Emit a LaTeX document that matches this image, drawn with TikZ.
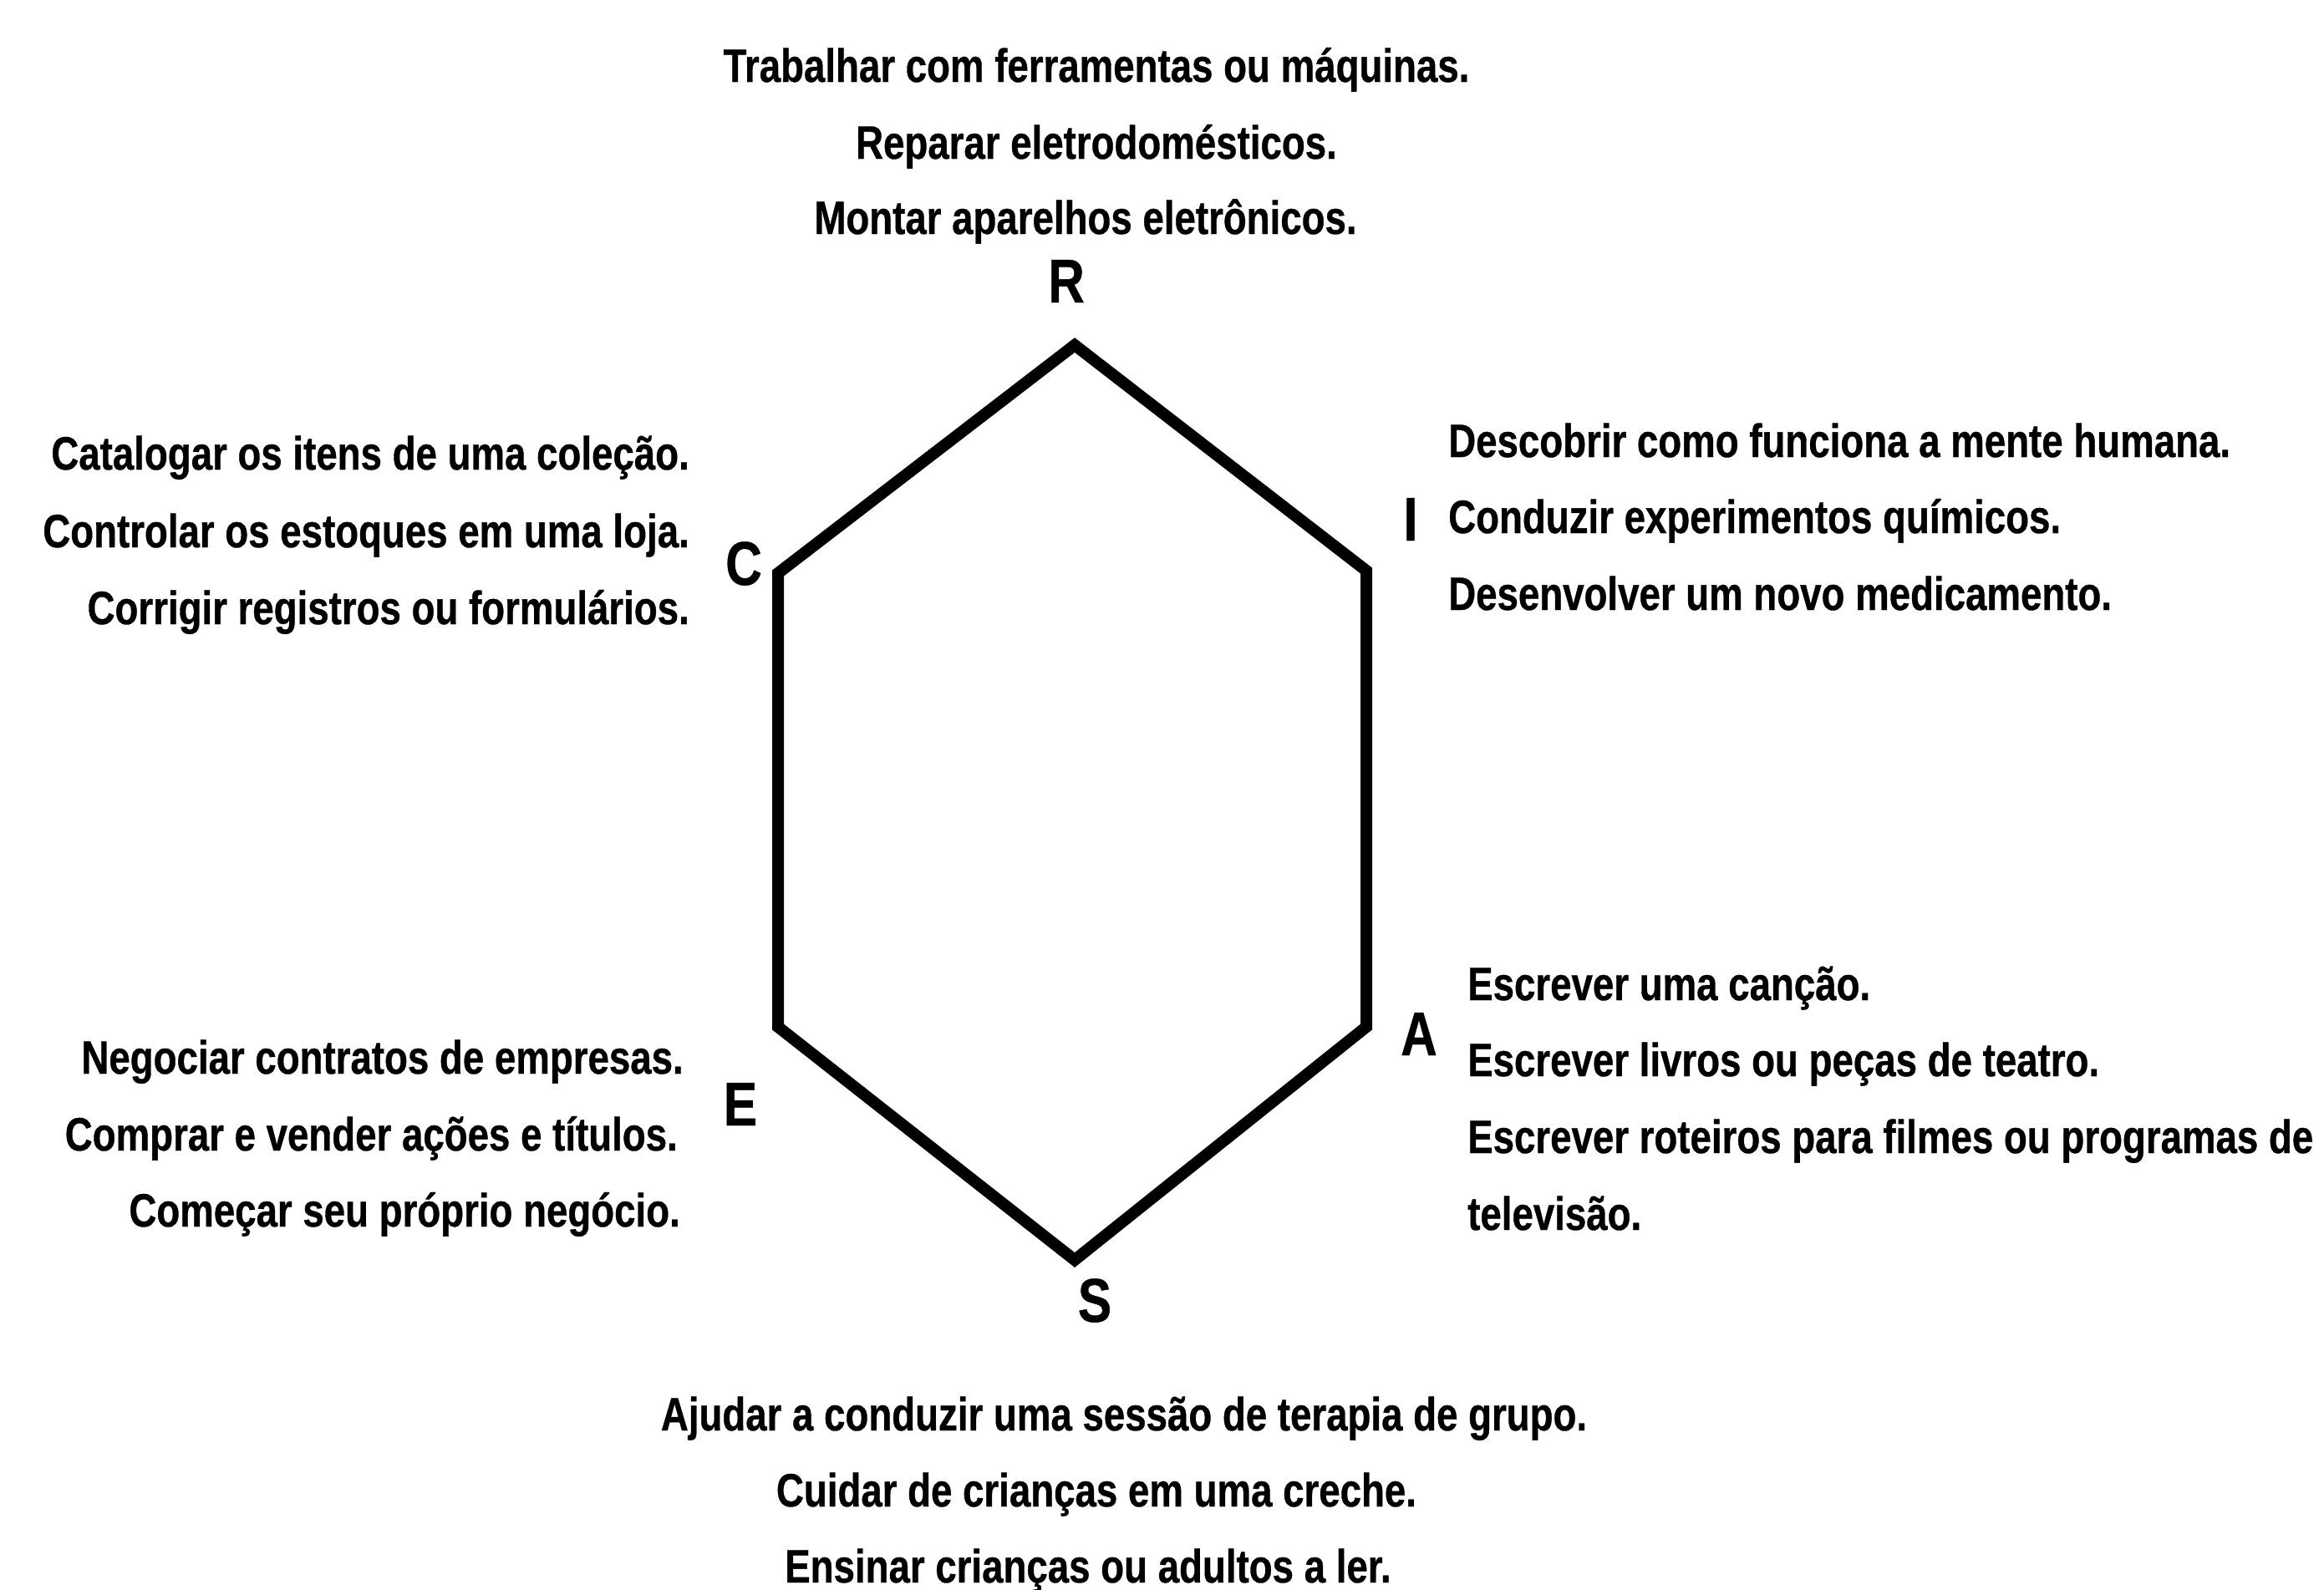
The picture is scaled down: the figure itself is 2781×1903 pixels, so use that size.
\documentclass[tikz,border=0pt]{standalone}
\usepackage{fontspec}
\newfontfamily\labfont{Liberation Sans}[FakeStretch=0.815,FakeBold=0.6]
\begin{document}
\begin{tikzpicture}[x=1pt,y=-1pt,
  item/.style={inner sep=0pt, font=\labfont\bfseries\fontsize{56}{60}\selectfont},
  letter/.style={inner sep=0pt, anchor=base, font=\labfont\bfseries\fontsize{74}{80}\selectfont},
  hexline/.style={line width=14pt, line join=miter}]
\useasboundingbox[fill=white] (0,0) rectangle (2781,1903);
% hexagon corners
\coordinate (vR) at (1286,413);
\coordinate (vI) at (1635,683);
\coordinate (vA) at (1635,1229);
\coordinate (vS) at (1286,1508);
\coordinate (vE) at (931,1229);
\coordinate (vC) at (931,686);
\draw[hexline] (vR) -- (vI) -- (vA) -- (vS) -- (vE) -- (vC) -- cycle;
% letters
\node[letter] (lR) at (1276,362) {R};
\node[letter] (lI) at (1688,647) {I};
\node[letter] (lC) at (890,700) {C};
\node[letter] (lE) at (886,1347) {E};
\node[letter] (lA) at (1698,1263) {A};
\node[letter] (lS) at (1310,1582) {S};
% R block
\node[item, anchor=base] (r1) at (1312,98) {Trabalhar com ferramentas ou máquinas.};
\node[item, anchor=base] (r2) at (1312,190) {Reparar eletrodomésticos.};
\node[item, anchor=base] (r3) at (1299,280) {Montar aparelhos eletrônicos.};
% C block
\node[item, anchor=base east] (c1) at (825,562) {Catalogar os itens de uma coleção.};
\node[item, anchor=base east] (c2) at (825,655) {Controlar os estoques em uma loja.};
\node[item, anchor=base east] (c3) at (825,747) {Corrigir registros ou formulários.};
% I block
\node[item, anchor=base west] (i1) at (1733,547) {Descobrir como funciona a mente humana.};
\node[item, anchor=base west] (i2) at (1733,638) {Conduzir experimentos químicos.};
\node[item, anchor=base west] (i3) at (1733,730) {Desenvolver um novo medicamento.};
% E block
\node[item, anchor=base east] (e1) at (818,1285) {Negociar contratos de empresas.};
\node[item, anchor=base east] (e2) at (811,1377) {Comprar e vender ações e títulos.};
\node[item, anchor=base east] (e3) at (814,1468) {Começar seu próprio negócio.};
% A block
\node[item, anchor=base west] (a1) at (1756,1197) {Escrever uma canção.};
\node[item, anchor=base west] (a2) at (1756,1288) {Escrever livros ou peças de teatro.};
\node[item, anchor=base west] (a3) at (1756,1380) {Escrever roteiros para filmes ou programas de};
\node[item, anchor=base west] (a4) at (1756,1472) {televisão.};
% S block
\node[item, anchor=base] (s1) at (1345,1712) {Ajudar a conduzir uma sessão de terapia de grupo.};
\node[item, anchor=base] (s2) at (1312,1803) {Cuidar de crianças em uma creche.};
\node[item, anchor=base] (s3) at (1302,1894) {Ensinar crianças ou adultos a ler.};
\end{tikzpicture}
\end{document}
